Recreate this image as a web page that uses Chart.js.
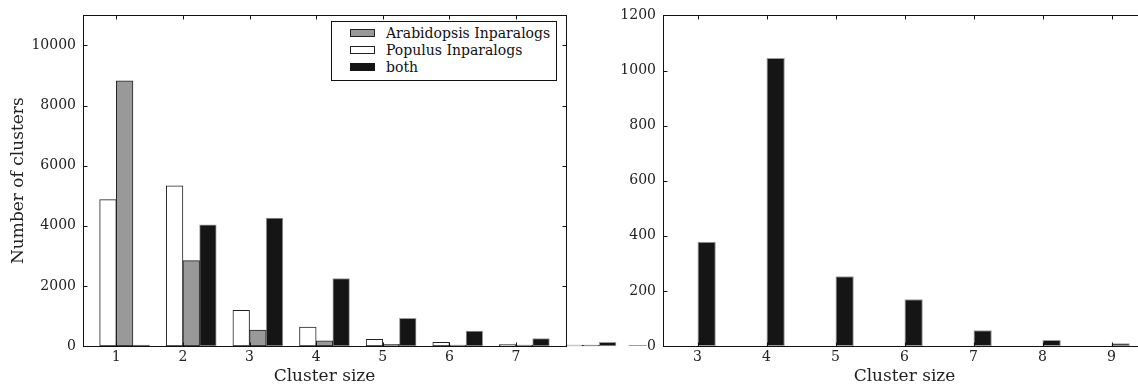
<!DOCTYPE html>
<html>
<head>
<meta charset="utf-8">
<script src="https://cdn.jsdelivr.net/npm/chart.js@4"></script>
<style>
html, body { margin: 0; padding: 0; background: #fff; overflow: hidden; width: 1138px; height: 387px; }
#wrap { position: relative; width: 1138px; height: 387px; overflow: hidden; }
canvas { position: absolute; top: 0; }
#leftChart { left: 0; }
#rightChart { left: 620px; }
.legend { position: absolute; left: 331px; top: 21px; width: 224px; height: 55px; border: 1px solid #111;
  background: #fff; font: 14px "DejaVu Serif"; color: #111; padding-top: 3px; box-sizing: content-box; }
.legend div { height: 17px; line-height: 17px; white-space: nowrap; position: relative; padding-left: 54px; }
.legend span { position: absolute; left: 18px; top: 4px; width: 23px; height: 6px; border: 1px solid #222; }
</style>
</head>
<body>
<div id="wrap">
  <canvas id="leftChart" width="620" height="387"></canvas>
  <canvas id="rightChart" width="540" height="387"></canvas>
  <div class="legend" id="legend"></div>
</div>
<script>
// cluster sizes and counts (left panel)
const clusterSizes = [1, 2, 3, 4, 5, 6, 7, 8];
const arabidopsis = [8820, 2840, 530, 175, 55, 20, 15, 10];
const populus = [4870, 5330, 1185, 630, 220, 120, 50, 20];
const both = [20, 4035, 4260, 2245, 920, 500, 245, 125];
const leftXTicks = [1, 2, 3, 4, 5, 6, 7];
const leftYTicks = [0, 2000, 4000, 6000, 8000, 10000];

// right panel
const rightSizes = [2, 3, 4, 5, 6, 7, 8, 9];
const rightBoth = [0, 378, 1045, 253, 170, 57, 22, 10];
const rightXTicks = [3, 4, 5, 6, 7, 8, 9];
const rightYTicks = [0, 200, 400, 600, 800, 1000, 1200];

const seriesStyle = [
    { label: 'Arabidopsis Inparalogs', fill: '#999999', edge: '#222222' },
    { label: 'Populus Inparalogs', fill: '#ffffff', edge: '#222222' },
    { label: 'both', fill: '#151515', edge: '#9a9a9a' }
];

Chart.defaults.font.family = '"DejaVu Serif", serif';
Chart.defaults.color = '#222';

// box around the plot area plus inward tick marks on all four sides
const frameTicks = {
    id: 'frameTicks',
    afterDatasetsDraw(chart) {
        const { ctx, chartArea: a, scales: { x, y } } = chart;
        const L = Math.round(a.left) + 0.5, R = Math.round(a.right) + 0.5;
        const T = Math.round(a.top) + 0.5, B = Math.round(a.bottom) + 0.5;
        ctx.save();
        ctx.strokeStyle = '#111';
        ctx.lineWidth = 1;
        ctx.strokeRect(L, T, R - L, B - T);
        ctx.beginPath();
        x.ticks.forEach(t => {
            const px = Math.round(x.getPixelForValue(t.value)) + 0.5;
            ctx.moveTo(px, B); ctx.lineTo(px, B - 4);
            ctx.moveTo(px, T); ctx.lineTo(px, T + 4);
        });
        y.ticks.forEach(t => {
            const py = Math.round(y.getPixelForValue(t.value)) + 0.5;
            ctx.moveTo(L, py); ctx.lineTo(L + 4, py);
            ctx.moveTo(R, py); ctx.lineTo(R - 4, py);
        });
        ctx.stroke();
        ctx.restore();
    }
};

function xScale(min, max, tickList, fitHeight) {
    return {
        type: 'linear', min: min, max: max, offset: false,
        grid: { display: false, drawTicks: false, offset: false }, border: { display: false },
        afterBuildTicks: s => { s.ticks = tickList.map(v => ({ value: v })); },
        afterFit: s => { s.height = fitHeight; },
        ticks: { font: { size: 14 }, padding: 3, maxRotation: 0, autoSkip: false, callback: v => String(v) },
        title: { display: true, text: 'Cluster size', font: { size: 17 }, padding: { top: 0, bottom: 0 }, color: '#222' }
    };
}

function yScale(max, tickList, fitWidth, title) {
    const s = {
        min: 0, max: max,
        grid: { display: false, drawTicks: false }, border: { display: false },
        afterBuildTicks: sc => { sc.ticks = tickList.map(v => ({ value: v })); },
        afterFit: sc => { sc.width = fitWidth; },
        ticks: { font: { size: 14 }, padding: 7, callback: v => String(v) }
    };
    if (title) s.title = { display: true, text: title, font: { size: 17 }, padding: { top: 8, bottom: 0 }, color: '#222' };
    return s;
}

// left panel: three bars per cluster size, a quarter unit wide each
const offsets = [0.125, -0.125, 0.375];
const leftSeries = [arabidopsis, populus, both];
new Chart(document.getElementById('leftChart'), {
    type: 'bar',
    data: {
        datasets: leftSeries.map((vals, i) => ({
            label: seriesStyle[i].label,
            data: clusterSizes.map((c, j) => ({ x: c + offsets[i], y: vals[j] })),
            backgroundColor: seriesStyle[i].fill,
            borderColor: seriesStyle[i].edge,
            borderWidth: 1,
            borderSkipped: false,
            grouped: false,
            barPercentage: 1,
            categoryPercentage: 1,
            minBarLength: 1,
            clip: false
        }))
    },
    options: {
        responsive: false,
        animation: false,
        layout: { padding: { left: 0, top: 14, right: 54, bottom: 0 } },
        plugins: { legend: { display: false }, tooltip: { enabled: false } },
        scales: {
            x: xScale(0.5, 7.75, leftXTicks, 41),
            y: yScale(11000, leftYTicks, 83, 'Number of clusters')
        }
    },
    plugins: [frameTicks]
});

// right panel: only the "both" series
new Chart(document.getElementById('rightChart'), {
    type: 'bar',
    data: {
        datasets: [{
            label: 'both',
            data: rightSizes.map((c, j) => ({ x: c + 0.1325, y: rightBoth[j] })),
            backgroundColor: seriesStyle[2].fill,
            borderColor: seriesStyle[2].edge,
            borderWidth: 1,
            borderSkipped: false,
            grouped: false,
            barPercentage: 0.265,
            categoryPercentage: 1,
            minBarLength: 1,
            clip: false
        }]
    },
    options: {
        responsive: false,
        animation: false,
        layout: { padding: { left: 0, top: 14, right: 14, bottom: 0 } },
        plugins: { legend: { display: false }, tooltip: { enabled: false } },
        scales: {
            x: xScale(2.5, 9.5, rightXTicks, 41),
            y: yScale(1200, rightYTicks, 43, null)
        }
    },
    plugins: [frameTicks]
});

// legend box (top right of left panel)
const legend = document.getElementById('legend');
seriesStyle.forEach(s => {
    const row = document.createElement('div');
    const sw = document.createElement('span');
    sw.style.background = s.fill;
    sw.style.borderColor = s.fill === '#151515' ? '#151515' : '#222';
    row.appendChild(sw);
    row.appendChild(document.createTextNode(s.label));
    legend.appendChild(row);
});
</script>
</body>
</html>
